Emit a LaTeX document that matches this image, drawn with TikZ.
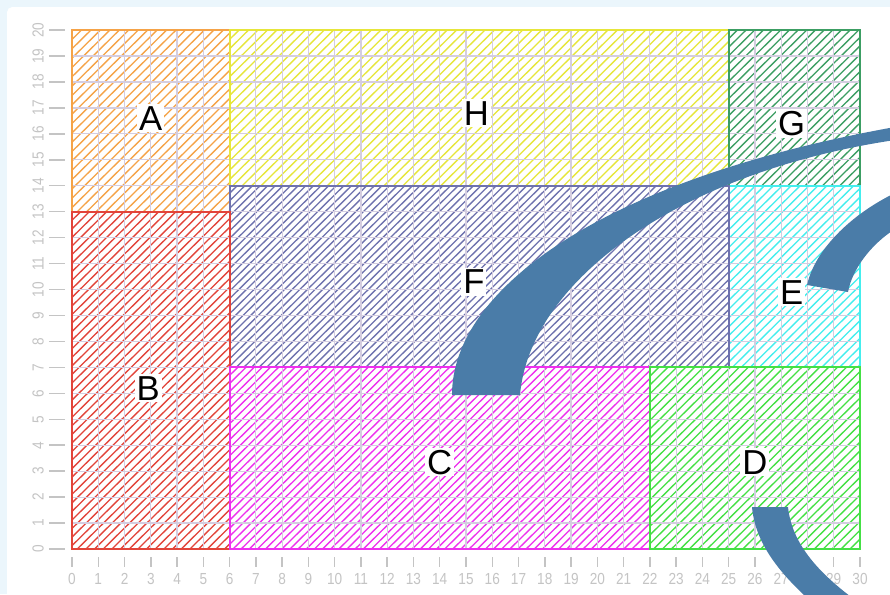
\documentclass[tikz,border=0pt]{standalone}
\usepackage{fontspec}
\setmainfont{Liberation Sans}
\newfontfamily\tickfont[FakeStretch=0.85]{Liberation Sans}
\usetikzlibrary{calc}
\definecolor{plotFrame}{HTML}{EBF6FC}
\definecolor{plotOrange}{HTML}{F5A347}
\definecolor{plotRed}{HTML}{E2443A}
\definecolor{plotMagenta}{HTML}{EE30EE}
\definecolor{plotGreen}{HTML}{44E044}
\definecolor{plotCyan}{HTML}{44EEEE}
\definecolor{plotSlate}{HTML}{6E72AE}
\definecolor{plotPine}{HTML}{3C9E63}
\definecolor{plotYellow}{HTML}{E6E63A}
\definecolor{plotGrid}{HTML}{D4CDE0}
\definecolor{plotTick}{HTML}{C4C4C4}
\definecolor{plotBand}{HTML}{4A7CA8}
\tikzset{
  plot/frame/.style={fill=plotFrame},
  plot/grid/.style={draw=plotGrid, line width=0.9pt},
  plot/hatch/.style={line width=1pt},
  plot/border/.style={line width=1.5pt},
  plot/tick/.style={draw=plotTick, line width=1.1pt},
  plot/ticklabel/.style={font=\tickfont\fontsize{12}{12}\selectfont,
    text=plotTick, inner sep=0pt},
  plot/label/.style={font=\fontsize{26}{26}\selectfont, text=black,
    fill=white, inner sep=1.5pt},
  plot/band/.style={fill=plotBand},
}

\begin{document}
\begin{tikzpicture}[x=0.75pt, y=-0.75pt]
\useasboundingbox (0,0) rectangle (890,594);
\clip (0,0) rectangle (890,594);
\fill[plot/frame] (0,0) rectangle (890,594);
\fill[white, rounded corners=4pt] (7,7) rectangle (900,604);

\begin{scope}[shift={(72,549)}, x=19.70pt, y=19.46pt]
  % hatching, one clipped block per region
  \foreach \xa/\ya/\xb/\yb/\col/\gap in {0/13/6/20/plotOrange/0.36,
      6/14/25/20/plotYellow/0.36, 25/14/30/20/plotPine/0.33,
      25/7/30/14/plotCyan/0.34, 6/7/25/14/plotSlate/0.29,
      0/0/6/13/plotRed/0.33, 6/0/22/7/plotMagenta/0.31,
      22/0/30/7/plotGreen/0.34} {
    \begin{scope}
      \clip (\xa,\ya) rectangle (\xb,\yb);
      \pgfmathtruncatemacro{\nlines}{(\xb-\xa+\yb-\ya)/\gap+1}
      \foreach \k in {0,...,\nlines}
        \draw[plot/hatch, draw=\col] ({\xa-(\yb-\ya)+\k*\gap},\ya)
          -- ++({\yb-\ya},{\yb-\ya});
    \end{scope}
  }
  \foreach \i in {1,...,29}
    \draw[plot/grid] (\i,0) -- (\i,20);
  \foreach \j in {1,...,19}
    \draw[plot/grid] (0,\j) -- (30,\j);
  % region outlines
  \foreach \xa/\ya/\xb/\yb/\col in {0/13/6/20/plotOrange,
      6/14/25/20/plotYellow, 25/14/30/20/plotPine, 25/7/30/14/plotCyan,
      6/7/25/14/plotSlate, 0/0/6/13/plotRed, 6/0/22/7/plotMagenta,
      22/0/30/7/plotGreen}
    \draw[plot/border, draw=\col] (\xa,\ya) rectangle (\xb,\yb);

  % axes
  \foreach \i in {0,...,30} {
    \draw[plot/tick] (\i,-0.31) -- (\i,-0.69);
    \node[plot/ticklabel] (xt\i) at (\i,-1.16) {\i};
  }
  \foreach \j in {0,...,20} {
    \draw[plot/tick] (-0.88,\j) -- (-0.27,\j);
    \node[plot/ticklabel, rotate=90] (yt\j) at (-1.29,\j) {\j};
  }

  \node[plot/label] (regA) at (3,16.6) {A};
  \node[plot/label] (regH) at (15.4,16.8) {H};
  \node[plot/label] (regG) at (27.4,16.4) {G};
  \node[plot/label] (regF) at (15.3,10.3) {F};
  \node[plot/label] (regE) at (27.4,9.9) {E};
  \node[plot/label] (regB) at (2.9,6.2) {B};
  \node[plot/label] (regC) at (14,3.35) {C};
  \node[plot/label] (regD) at (26,3.35) {D};
\end{scope}

% blue bands
\fill[plot/band] (452,395) .. controls (452,290) and (600,180) .. (895,127)
  -- (895,140) .. controls (680,172) and (530,280) .. (520,395) -- cycle;
\fill[plot/band] (807,285) .. controls (815,250) and (850,215) .. (895,193)
  -- (895,229) .. controls (870,245) and (852,270) .. (848,292) -- cycle;
\fill[plot/band] (752,507) -- (788,507) .. controls (792,545) and (820,575)
  .. (862,605) -- (815,605) .. controls (775,570) and (755,540) .. (752,507)
  -- cycle;
\end{tikzpicture}
\end{document}
